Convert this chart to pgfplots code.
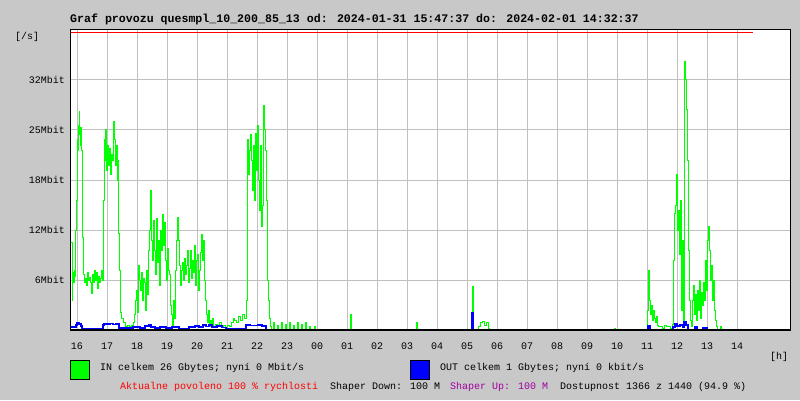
\documentclass[border=0pt]{standalone}
\usepackage{pgfplots}
\pgfplotsset{compat=1.18}
\usepackage{fontspec}
\setmainfont{Liberation Mono}
\definecolor{bg}{RGB}{200,200,200}
\definecolor{grd}{RGB}{192,192,192}
\definecolor{ingreen}{RGB}{0,255,0}
\definecolor{outblue}{RGB}{0,0,255}
\definecolor{purp}{RGB}{160,0,160}
\begin{document}
\begin{tikzpicture}
\fill[bg] (0pt,0pt) rectangle (800pt,400pt);
\begin{axis}[at={(70pt,70pt)}, anchor=south west, scale only axis,
  width=720pt, height=300pt,
  xmin=-14, xmax=1426, ymin=0, ymax=37.5,
  axis background/.style={fill=white},
  axis line style={draw=none},
  clip=false,
  xtick={0,60,...,1320},
  xticklabels={16,17,18,19,20,21,22,23,00,01,02,03,04,05,06,07,08,09,10,11,12,13,14},
  ytick={6.25,12.5,18.75,25,31.25},
  yticklabels={6Mbit,12Mbit,18Mbit,25Mbit,32Mbit},
  major tick length=0pt,
  grid=major, grid style={grd, line width=1pt},
  ticklabel style={font=\fontsize{10}{12}\selectfont},
  xticklabel style={yshift=-9pt},
  yticklabel style={xshift=-1.5pt},
]
\addplot[const plot, ingreen, line width=1pt] coordinates {
(-12,10.9)(-10,3.75)(-9,7.25)(-8,6.0)(-6,7.5)(-4,6.75)(-3,12.5)(-2,16.25)
(0,18.1)(1,23.75)(2,22.5)(3,25.6)(4,27.25)(5,24.4)(6,23.1)(7,25.25)(8,23.75)(9,22.5)
(10,16.25)(11,11.6)(12,6.9)(14,5.9)(16,6.5)(18,5.6)(20,7.25)(22,6.25)(24,6.6)(26,6.0)
(28,4.6)(30,6.9)(32,5.9)(34,7.5)(36,6.25)(38,7.25)(40,5.25)(42,6.75)(44,6.0)(46,6.5)
(48,7.5)(50,6.25)(52,7.1)(53,16.25)(54,23.75)(55,21.25)(56,25.0)(58,20.0)(60,23.1)
(62,20.6)(64,22.75)(66,19.4)(68,21.9)(70,21.25)(72,24.4)(73,26.0)(74,23.75)(76,20.6)
(78,23.1)(80,18.75)(81,21.25)(82,17.5)(83,12.1)(84,7.5)(86,5.0)(87,2.25)(88,1.5)
(92,1.0)(96,0.5)(100,0.6)(104,0.4)(108,0.6)(112,1.0)(114,1.9)(116,3.75)(118,5.0)
(120,2.25)(122,8.1)(124,6.25)(126,5.0)(128,7.25)(130,3.75)(132,6.5)(134,6.0)(136,2.5)
(138,7.5)(140,4.4)(142,10.0)(144,12.5)(146,17.5)(148,11.25)(150,8.75)(152,13.75)
(154,10.0)(156,6.9)(158,14.0)(160,8.5)(162,11.25)(164,5.6)(166,12.5)(168,10.0)
(170,14.4)(172,10.6)(174,13.5)(176,8.75)(178,6.25)(180,10.25)(182,7.5)(184,6.9)
(186,3.1)(188,1.9)(190,0.6)(192,3.75)(194,1.5)(196,7.5)(198,11.25)(200,14.1)
(202,11.25)(204,8.1)(206,5.6)(208,7.5)(210,8.5)(212,6.25)(214,9.0)(216,6.9)(218,8.1)
(220,10.0)(222,6.0)(224,7.75)(226,10.0)(228,6.5)(230,8.75)(232,7.25)(234,10.6)
(236,5.6)(238,8.75)(240,9.4)(242,5.0)(244,7.5)(246,9.75)(248,11.9)(250,8.75)
(252,11.25)(254,6.25)(256,3.75)(258,1.9)(260,1.0)(262,2.5)(264,0.5)(266,1.25)
(268,0.5)(270,1.5)(272,0.4)(276,0.75)(280,0.4)(284,0.9)(288,0.4)(292,0.6)(296,0.25)
(300,0.6)(304,0.4)(308,1.0)(312,1.5)(314,1.25)(318,1.0)(322,1.75)(326,1.25)(330,2.0)
(334,1.5)(338,3.75)(340,23.75)(342,19.4)(344,22.5)(346,24.4)(348,21.25)(350,17.5)
(352,23.1)(354,16.25)(356,24.6)(358,20.0)(360,25.6)(362,18.75)(364,15.0)(366,23.1)
(368,12.9)(370,15.6)(372,28.1)(374,25.0)(376,22.5)(378,16.25)(380,6.25)(382,3.75)
(384,1.5)(386,0.4)(388,0)
(392,1.0)(394,0)(400,0.6)(402,0)(408,1.0)(410,0)(416,0.7)(418,0)(424,1.0)(426,0)
(432,0.6)(434,0)(440,0.9)(442,0)(448,0.7)(450,0)(456,0.9)(458,0)(464,0.5)(466,0)
(474,0.5)(476,0)(546,1.9)(548,0)(678,1.0)(680,0)(790,5.4)(792,0)
(802,0.4)(806,0.9)(810,1.1)(814,0.6)(818,0.9)(822,0.25)(824,0)(1074,0.25)(1076,0)
(1140,2.5)(1142,7.5)(1144,3.75)(1146,1.9)(1148,3.1)(1150,1.25)(1152,2.5)(1154,1.5)
(1156,1.0)(1158,1.75)(1160,0.6)(1162,0.4)(1166,0.5)(1170,0.25)(1174,0.6)(1178,0.4)
(1182,0.5)(1186,0.25)(1190,0.75)(1192,8.75)(1194,14.6)(1196,15.6)(1198,19.4)
(1200,12.5)(1202,15.0)(1204,9.4)(1206,16.25)(1208,2.5)(1210,11.25)(1212,1.25)
(1214,22.5)(1215,33.5)(1216,31.25)(1218,27.5)(1220,21.25)(1222,10.0)(1224,3.75)
(1226,1.25)(1228,0.5)(1230,3.75)(1232,5.6)(1234,1.9)(1236,4.4)(1238,1.25)(1240,5.0)
(1242,2.5)(1244,6.25)(1246,1.5)(1248,4.75)(1250,3.1)(1252,5.9)(1254,3.75)(1256,8.75)
(1258,5.0)(1260,11.25)(1262,12.9)(1264,10.0)(1266,6.25)(1268,8.1)(1270,3.75)
(1272,6.25)(1274,2.5)(1276,1.25)(1278,0.5)(1280,0)(1286,0.4)(1288,0)(1352,0)
};
\addplot[const plot, outblue, line width=1.6pt] coordinates {
(-12,0.4)(-2,0.6)(0,0.9)(4,0.75)(8,0.5)(10,0.15)(52,0.6)(54,0.75)(66,0.8)(72,0.7)
(78,0.75)(84,0.25)(112,0.4)(126,0.25)(136,0.5)(144,0.7)(148,0.4)(156,0.25)(166,0.4)
(178,0.25)(190,0.4)(204,0.2)(224,0.4)(236,0.5)(244,0.4)(252,0.6)(258,0.45)(264,0.6)
(270,0.4)(280,0.5)(290,0.3)(298,0.2)(338,0.6)(346,0.55)(362,0.6)(370,0.5)(378,0)
(790,2.2)(792,0)(1142,0.5)(1146,0)(1192,0.4)(1196,0.8)(1200,0.5)(1206,0.6)
(1212,0.3)(1214,1.0)(1218,0.6)(1222,0)(1236,0.4)(1240,0)(1252,0.25)(1260,0)
(1352,0)
};
\draw[black, line width=1pt] (rel axis cs:0,0) rectangle (rel axis cs:1,1);
\draw[black, line width=2pt] (rel axis cs:0,0) -- (rel axis cs:1,0);
\addplot[red, line width=1.2pt] coordinates {(-12.4,37.2) (1352.6,37.2)};
\end{axis}
\node[anchor=west, inner sep=0pt, font=\fontsize{11.6}{13}\selectfont\bfseries] at (70pt,381pt)
  {Graf provozu quesmpl\_10\_200\_85\_13 od: 2024-01-31 15:47:37 do: 2024-02-01 14:32:37};
\node[anchor=west, inner sep=0pt, font=\fontsize{10}{12}\selectfont] at (15pt,363pt) {[/s]};
\node[anchor=west, inner sep=0pt, font=\fontsize{10}{12}\selectfont] at (770pt,43pt) {[h]};
\draw[black, line width=1pt, fill=ingreen] (70.5pt,20.5pt) rectangle (89.5pt,39.5pt);
\draw[black, line width=1pt, fill=outblue] (410.5pt,20.5pt) rectangle (429.5pt,39.5pt);
\node[anchor=west, inner sep=0pt, font=\fontsize{10}{12}\selectfont] at (100pt,32pt) {IN celkem 26 Gbytes; nyní 0 Mbit/s};
\node[anchor=west, inner sep=0pt, font=\fontsize{10}{12}\selectfont] at (440pt,32pt) {OUT celkem 1 Gbytes; nyní 0 kbit/s};
\node[anchor=west, inner sep=0pt, font=\fontsize{10}{12}\selectfont, text=red] at (120pt,13pt) {Aktualne povoleno 100 \% rychlosti};
\node[anchor=west, inner sep=0pt, font=\fontsize{10}{12}\selectfont] at (330pt,13pt) {Shaper Down: 100 M};
\node[anchor=west, inner sep=0pt, font=\fontsize{10}{12}\selectfont, text=purp] at (450pt,13pt) {Shaper Up: 100 M};
\node[anchor=west, inner sep=0pt, font=\fontsize{10}{12}\selectfont] at (560pt,13pt) {Dostupnost 1366 z 1440 (94.9 \%)};
\end{tikzpicture}
\end{document}
